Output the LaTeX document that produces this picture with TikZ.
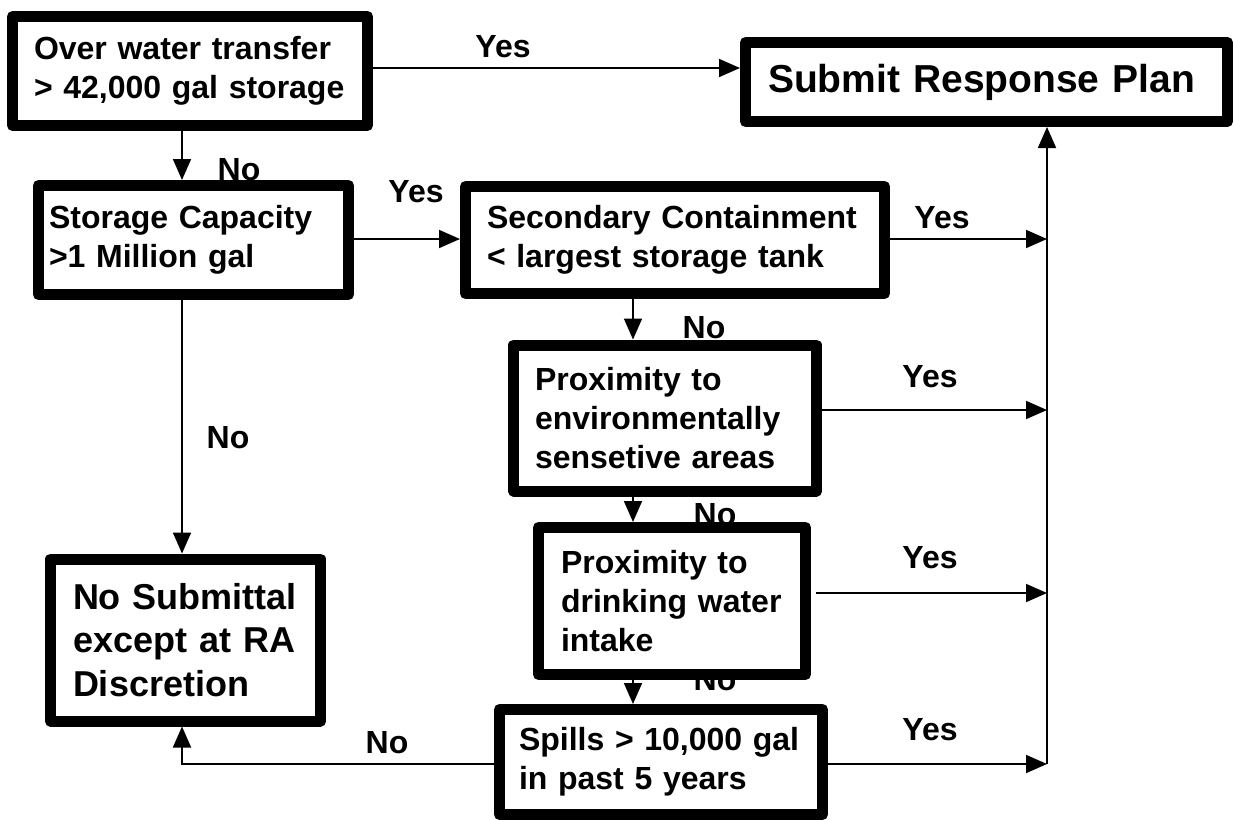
\documentclass[tikz,border=0pt]{standalone}
\usepackage{fontspec}
\setmainfont{Liberation Sans}[WordSpace=0.8]
\usetikzlibrary{arrows.meta}

\begin{document}
\begin{tikzpicture}[x=0.5pt, y=-0.5pt,
  box/.style={draw, rectangle, line width=5.5pt, line join=round, fill=white, align=left,
    inner xsep=10.75pt, inner ysep=0pt, font=\fontsize{16}{19.5}\selectfont\bfseries},
  lbl/.style={anchor=base, inner sep=0pt, font=\fontsize{16}{19.5}\selectfont\bfseries},
  flow/.style={line width=0.9pt, -{Triangle[length=10.5pt, width=9pt]}}]
\useasboundingbox (0,0) rectangle (1233,820);

% answers (boxes are drawn over them)
\node[lbl] (yes1) at (503,57) {Yes};
\node[lbl] (no1) at (239,180) {No};
\node[lbl] (yes2) at (416,202) {Yes};
\node[lbl] (yes3) at (942,228) {Yes};
\node[lbl] (no2) at (704,338) {No};
\node[lbl] (yes4) at (930,387) {Yes};
\node[lbl] (no3) at (228,448) {No};
\node[lbl] (no4) at (715,525) {No};
\node[lbl] (yes5) at (930,568) {Yes};
\node[lbl] (no5) at (715,690) {No};
\node[lbl] (yes6) at (930,740) {Yes};
\node[lbl] (no6) at (387,753) {No};

% boxes
\node[box, text width=156pt, minimum height=54.5pt] (over) at (190,71) {Over water transfer\\> 42,000 gal storage};
\node[box, inner xsep=11.25pt, text width=218.5pt, minimum height=39.5pt,
  font=\fontsize{19.5}{23}\selectfont\bfseries] (srp) at (986.5,82) {Submit Response Plan};
\node[box, inner xsep=5.25pt, text width=144.5pt, minimum height=54.5pt] (cap) at (193.5,240) {Storage Capacity\\>1 Million gal};
\node[box, text width=188pt, minimum height=53.5pt] (sec) at (675,240) {Secondary Containment\\< largest storage tank};
\node[box, text width=130pt, minimum height=73pt] (env) at (665,418) {Proximity to\\environmentally\\sensetive areas};
\node[box, inner xsep=11.25pt, text width=111pt, minimum height=73.5pt] (drink) at (672,601) {Proximity to\\drinking water\\intake};
\node[box, inner xsep=9.75pt, text width=142pt, minimum height=52.5pt] (spill) at (661,762) {Spills > 10,000 gal\\in past 5 years};
\node[box, inner xsep=11.25pt, text width=112.5pt, minimum height=81pt,
  font=\fontsize{18}{21.75}\selectfont\bfseries] (nosub) at (185.5,640) {No Submittal\\except at RA\\Discretion};

% lines
\coordinate (colA) at (182,764);
\coordinate (colB) at (633,0);
\coordinate (bus1) at (1047,239);
\coordinate (bus2) at (1047,410);
\coordinate (bus3) at (1047,593);
\coordinate (bus4) at (1047,764);

\draw[flow] (over.east |- 0,68) -- (srp.west |- 0,68);
\draw[flow] (over.south -| colA) -- (cap.north -| colA);
\draw[flow] (cap.east |- bus1) -- (sec.west |- bus1);
\draw[flow] (cap.south -| colA) -- (nosub.north -| colA);
\draw[flow] (spill.west |- colA) -- (colA) -- (nosub.south -| colA);
\draw[flow] (sec.south -| colB) -- (env.north -| colB);
\draw[flow] (env.south -| colB) -- (drink.north -| colB);
\draw[flow] (drink.south -| colB) -- (spill.north -| colB);
\draw[flow] (sec.east |- bus1) -- (bus1);
\draw[flow] (env.east |- bus2) -- (bus2);
\draw[flow, shorten <=2.5pt] (drink.east |- bus3) -- (bus3);
\draw[flow] (spill.east |- bus4) -- (bus4);
\draw[flow] (bus4) -- (srp.south -| bus4);
\end{tikzpicture}
\end{document}
